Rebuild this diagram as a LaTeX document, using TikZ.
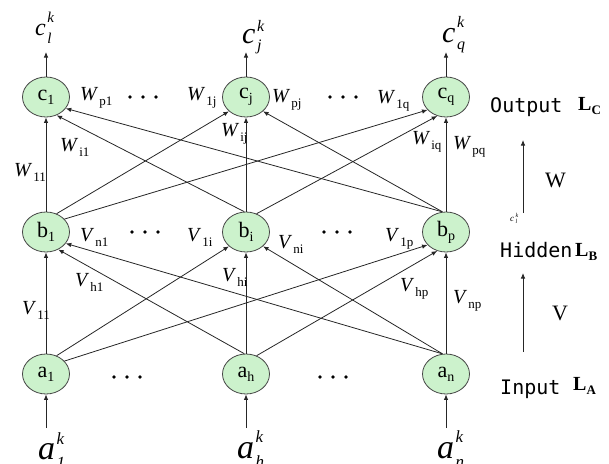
\documentclass[tikz,border=0pt]{standalone}
\usepackage{fontspec}
\setmainfont{Liberation Serif}
\newfontfamily\monof{DejaVu Sans Mono}
\usetikzlibrary{arrows.meta,shapes.geometric}
\definecolor{nodegreen}{RGB}{204,242,204}
\definecolor{edgegray}{RGB}{70,70,70}
\newcommand\fs[1]{\fontsize{#1}{#1}\selectfont}
% weight label: W_{sub}
\newcommand\wl[2]{{\fs{20}\textit{#1}}\kern1pt\raisebox{-5pt}{\fs{13}#2}}
% node label: c_1
\newcommand\nl[2]{{\fs{22}#1}\raisebox{-4pt}{\fs{14}#2}}
% io label: size, subsize, main, sub, sup, raise, lower
\newcommand\io[7]{{\fs{#1}\textit{#3}}\kern1.5pt\rlap{\raisebox{#6}{\fs{#2}\textit{#5}}}\raisebox{-#7}{\fs{#2}\textit{#4}}}
\begin{document}
\begin{tikzpicture}[x=1pt,y=-1pt,
  neuron/.style={ellipse,draw=edgegray,fill=nodegreen,line width=0.8pt,minimum width=47pt,minimum height=40pt,inner sep=0pt},
  conn/.style={draw=black!85,line width=0.8pt,-{Latex[length=5.5pt,width=4.5pt]}},
  lbl/.style={anchor=base west,inner sep=0pt},
  dotc/.style={circle,fill=black,inner sep=0pt,minimum size=3.8pt}]
\useasboundingbox (0,0) rectangle (609,463);

% neurons
\node[neuron] (c1) at (46,97)  {\nl{c}{1}};
\node[neuron] (cj) at (246,97) {\nl{c}{j}};
\node[neuron] (cq) at (446,97) {\nl{c}{q}};
\node[neuron] (b1) at (46,232)  {\nl{b}{1}};
\node[neuron] (bi) at (246,232) {\nl{b}{i}};
\node[neuron] (bp) at (446,232) {\nl{b}{p}};
\node[neuron] (a1) at (46,374)  {\nl{a}{1}};
\node[neuron] (ah) at (246,374) {\nl{a}{h}};
\node[neuron] (an) at (446,374) {\nl{a}{n}};

% outputs
\coordinate (oc1) at (46,52);
\coordinate (ocj) at (246,52);
\coordinate (ocq) at (446,52);
\draw[conn] (c1) -- (oc1);
\draw[conn] (cj) -- (ocj);
\draw[conn] (cq) -- (ocq);
\node[lbl] (tc1) at (35,35)  {\io{24}{15}{c}{l}{k}{13pt}{8pt}};
\node[lbl] (tcj) at (242,43) {\io{30}{16}{c}{j}{k}{12pt}{7pt}};
\node[lbl] (tcq) at (442,42) {\io{30}{16}{c}{q}{k}{15pt}{7pt}};

% inputs
\coordinate (ia1) at (46,428);
\coordinate (iah) at (246,428);
\coordinate (ian) at (446,428);
\draw[conn] (ia1) -- (a1);
\draw[conn] (iah) -- (ah);
\draw[conn] (ian) -- (an);
\node[lbl] (ta1) at (38,459)  {\io{34}{17}{a}{1}{k}{15pt}{9pt}};
\node[lbl] (tah) at (237,458) {\io{34}{17}{a}{h}{k}{16pt}{9pt}};
\node[lbl] (tan) at (437,458) {\io{34}{17}{a}{n}{k}{16pt}{9pt}};

% hidden -> output
\draw[conn] (b1.north) -- (c1.south);
\draw[conn] (bi.95) -- (c1.300);
\draw[conn] (bp.100) -- (c1.330);
\draw[conn] (b1.60) -- (cj.220);
\draw[conn] (bi.north) -- (cj.south);
\draw[conn] (bp.100) -- (cj.320);
\draw[conn] (b1.35) -- (cq.215);
\draw[conn] (bi.60) -- (cq.245);
\draw[conn] (bp.north) -- (cq.south);

% input -> hidden
\draw[conn] (a1.north) -- (b1.south);
\draw[conn] (ah.95) -- (b1.305);
\draw[conn] (an.100) -- (b1.330);
\draw[conn] (a1.60) -- (bi.220);
\draw[conn] (ah.north) -- (bi.south);
\draw[conn] (an.100) -- (bi.320);
\draw[conn] (a1.35) -- (bp.215);
\draw[conn] (ah.60) -- (bp.245);
\draw[conn] (an.north) -- (bp.south);

% weight labels W
\node[lbl] (lwp1) at (80,100)  {\wl{W}{p1}};
\node[lbl] (lw1j) at (187,100) {\wl{W}{1j}};
\node[lbl] (lwpj) at (272,102) {\wl{W}{pj}};
\node[lbl] (lw1q) at (377,103) {\wl{W}{1q}};
\node[lbl] (lwi1) at (60,151)  {\wl{W}{i1}};
\node[lbl] (lwij) at (221,136) {\wl{W}{ij}};
\node[lbl] (lwiq) at (412,144) {\wl{W}{iq}};
\node[lbl] (lwpq) at (453,149) {\wl{W}{pq}};
\node[lbl] (lw11) at (14,176)  {\wl{W}{11}};

% weight labels V
\node[lbl] (lvn1) at (80,241)  {\wl{V}{n1}};
\node[lbl] (lv1i) at (187,241) {\wl{V}{1i}};
\node[lbl] (lvni) at (278,248) {\wl{V}{ni}};
\node[lbl] (lv1p) at (385,241) {\wl{V}{1p}};
\node[lbl] (lvh1) at (75,286)  {\wl{V}{h1}};
\node[lbl] (lvhi) at (222,281) {\wl{V}{hi}};
\node[lbl] (lvhp) at (400,291) {\wl{V}{hp}};
\node[lbl] (lvnp) at (453,303) {\wl{V}{np}};
\node[lbl] (lv11) at (22,314)  {\wl{V}{11}};

% ellipsis dots
\foreach \px/\py [count=\k] in {143/97,343/97,145/232,337/232,127/377,333/377}
  \foreach \dx [count=\m] in {-13,0,13}
    \node[dotc] (dot\k-\m) at (\px+\dx,\py) {};

% right side legend
\node[lbl] (out) at (490,112) {\monof\fs{20}Output};
\node[lbl] (lc)  at (578,110) {\fs{20}\textbf{L}\raisebox{-4pt}{\fs{13}\textbf{C}}};
\node[lbl] (hid) at (500,257) {\monof\fs{20}Hidden};
\node[lbl] (lb)  at (575,256) {\fs{20}\textbf{L}\raisebox{-4pt}{\fs{13}\textbf{B}}};
\node[lbl] (inp) at (500,394) {\monof\fs{20}Input};
\node[lbl] (la)  at (573,390) {\fs{20}\textbf{L}\raisebox{-4pt}{\fs{13}\textbf{A}}};
\node[lbl] (wlab) at (545,187) {\fs{22}W};
\node[lbl] (vlab) at (552,320) {\fs{22}V};
\node[lbl] (tiny) at (510,221) {\io{9}{6}{c}{l}{k}{4pt}{2pt}};
\coordinate (wbot) at (523,213);
\coordinate (wtop) at (523,140);
\coordinate (vbot) at (523,352);
\coordinate (vtop) at (523,273);
\draw[conn] (wbot) -- (wtop);
\draw[conn] (vbot) -- (vtop);
\end{tikzpicture}
\end{document}
